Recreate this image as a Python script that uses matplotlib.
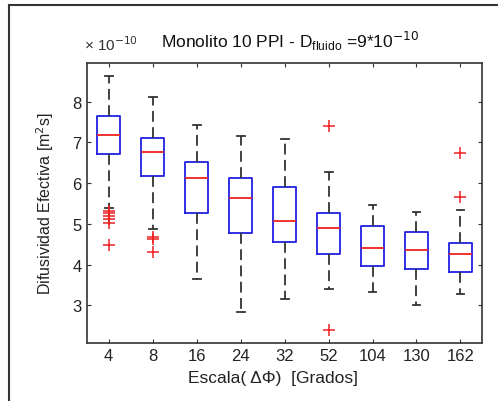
import matplotlib.pyplot as plt
from matplotlib.lines import Line2D

plt.rcParams['font.family'] = ['Liberation Sans', 'DejaVu Sans']

# values, in units of 1e-10 m^2/s
escalas = ['4', '8', '16', '24', '32', '52', '104', '130', '162']
whishi = [8.64, 8.11, 7.43, 7.16, 7.08, 6.27, 5.46, 5.30, 5.34]
q3 = [7.66, 7.11, 6.51, 6.14, 5.90, 5.27, 4.94, 4.81, 4.53]
medianas = [7.19, 6.76, 6.13, 5.63, 5.08, 4.89, 4.40, 4.36, 4.26]
q1 = [6.72, 6.17, 5.27, 4.79, 4.55, 4.26, 3.96, 3.89, 3.82]
whislo = [5.38, 4.87, 3.66, 2.83, 3.17, 3.40, 3.32, 3.02, 3.27]
fliers = [[5.32, 5.26, 5.20, 5.12, 5.02, 4.48],
          [4.69, 4.64, 4.32],
          [], [], [],
          [7.41, 2.40],
          [], [],
          [6.73, 5.67]]

stats = []
for i in range(len(escalas)):
    stats.append(dict(med=medianas[i], q1=q1[i], q3=q3[i],
                      whislo=whislo[i], whishi=whishi[i], fliers=fliers[i]))

fig = plt.figure(figsize=(5.01, 4.02), dpi=100)
ax = fig.add_axes([0.173, 0.1443, 0.790, 0.6965])

ax.bxp(stats, widths=0.51, capwidths=0.18,
       boxprops=dict(color='#2020e0', lw=1.3),
       medianprops=dict(color='#ee2020', lw=1.3),
       whiskerprops=dict(color='#333333', lw=1.3, ls=(0, (6, 3))),
       capprops=dict(color='#333333', lw=1.3),
       flierprops=dict(marker='+', markeredgecolor='#ee2020', markersize=8,
                       markeredgewidth=1.1, linestyle='none'))

ax.set_xlim(0.5, 9.5)
ax.set_ylim(2.08, 8.95)
ax.set_yticks([3, 4, 5, 6, 7, 8])
ax.set_xticks(range(1, len(escalas) + 1))
ax.set_xticklabels(escalas)
ax.tick_params(direction='in', top=True, right=True, labelsize=12,
               length=3, color='#333333', labelcolor='#222222')
for s in ax.spines.values():
    s.set_color('#333333')
    s.set_linewidth(1.2)

ax.set_xlabel('Escala( \u0394\u03a6)  [Grados]', fontsize=12.5, color='#222222', labelpad=5)
ax.xaxis.set_label_coords(0.47, -0.095)
ax.set_ylabel('Difusividad Efectiva [m$^2$s]', fontsize=11.5, color='#222222', labelpad=12)
fig.text(0.168, 0.872, '\u00d7 10$^{-10}$', fontsize=11, color='#333333')
fig.text(0.578, 0.88, 'Monolito 10 PPI - D$_{\\mathregular{fluido}}$ =9*10$^{-10}$',
         fontsize=12.5, ha='center', color='#111111')

# screenshot frame
fig.add_artist(Line2D([0.017, 0.017], [0, 0.985], transform=fig.transFigure,
                      color='#333333', lw=1.5))
fig.add_artist(Line2D([0.017, 0.993], [0.985, 0.985], transform=fig.transFigure,
                      color='#333333', lw=1.5))

fig.savefig('out.png', dpi=100)
